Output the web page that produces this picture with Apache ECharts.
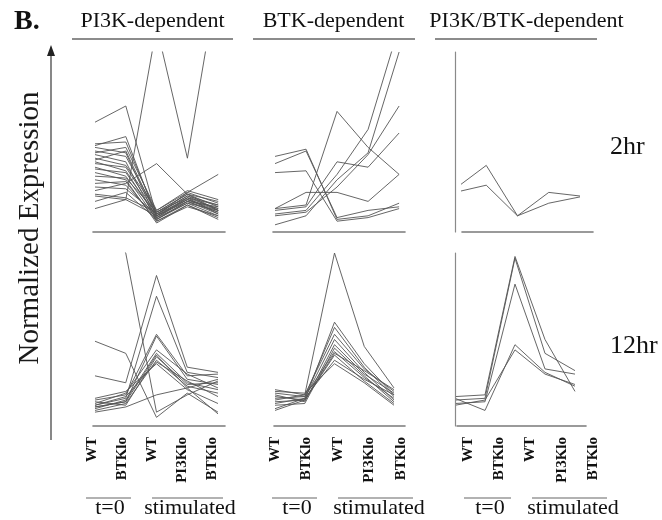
<!DOCTYPE html>
<html>
<head>
<meta charset="utf-8">
<script src="https://cdn.jsdelivr.net/npm/echarts@6/dist/echarts.min.js"></script>
<style>html,body{margin:0;padding:0;background:#fff}#c{width:662px;height:520px}</style>
</head>
<body>
<div id="c"></div>
<script>
// ---- text ----
const categories = ['WT', 'BTKlo', 'WT', 'PI3Klo', 'BTKlo'];
const groupLabels = ['t=0', 'stimulated'];
const columnTitles = ['PI3K-dependent', 'BTK-dependent', 'PI3K/BTK-dependent'];
const rowLabels = ['2hr', '12hr'];
const yTitle = 'Normalized Expression';
const panelTag = 'B.';

// ---- data: normalized expression, one row per gene, values for the 5 categories ----
const pi3k2hr = [
  [13, 18, 114, 41, 142],
  [61, 70, 9, 17, 11],
  [48, 53, 8, 19, 13],
  [49, 50, 10, 20, 15],
  [47, 44, 7, 16, 9],
  [45, 42, 11, 21, 14],
  [43, 39, 6, 15, 8],
  [41, 37, 12, 22, 16],
  [39, 34, 8, 18, 11],
  [38, 36, 10, 20, 12],
  [36, 31, 7, 17, 14],
  [35, 33, 9, 19, 10],
  [33, 29, 5, 15, 7],
  [31, 30, 11, 21, 17],
  [29, 26, 8, 16, 12],
  [27, 28, 6, 14, 9],
  [25, 24, 10, 18, 13],
  [23, 27, 38, 21, 12],
  [20, 18, 9, 22, 32],
  [17, 22, 7, 17, 10],
  [40, 45, 9, 18, 12],
  [44, 47, 12, 23, 18],
  [21, 19, 11, 19, 15]
];
const btk2hr = [
  [42, 46, 7, 9, 16],
  [38, 45, 8, 12, 14],
  [33, 34, 6, 8, 13],
  [13, 15, 67, 47, 32],
  [12, 14, 39, 36, 55],
  [10, 12, 32, 57, 114],
  [4, 9, 29, 44, 100],
  [9, 11, 25, 43, 70],
  [13, 22, 22, 17, 32]
];
const both2hr = [
  [24, 37, 9, 22, 20],
  [22, 26, 9, 16, 19.5]
];
const pi3k12hr = [
  [130, 100, 8, 18, 26],
  [49, 42, 5, 19, 8],
  [29, 25, 87, 34, 31],
  [12, 16, 75, 31, 28],
  [15, 18, 53, 29, 30],
  [11, 14, 52, 27, 24],
  [13, 19, 44, 30, 22],
  [10, 15, 42, 25, 21],
  [14, 12, 40, 24, 25],
  [9, 13, 38, 23, 19],
  [16, 20, 36, 21, 13],
  [12, 17, 37, 26, 17],
  [8, 11, 18, 22, 27],
  [11, 14, 41, 22, 7]
];
const btk12hr = [
  [21, 18, 100, 46, 22],
  [17, 15, 60, 36, 18],
  [19, 17, 57, 34, 17],
  [15, 18, 53, 33, 20],
  [13, 16, 50, 31, 15],
  [18, 14, 47, 30, 19],
  [12, 13, 45, 29, 14],
  [16, 17, 43, 28, 16],
  [14, 15, 41, 26, 13],
  [10, 16, 38, 27, 18],
  [20, 19, 36, 25, 12],
  [9, 15, 42, 32, 21]
];
const both12hr = [
  [17, 18, 98, 50, 20],
  [15, 16, 97, 42, 32],
  [13, 14, 82, 33, 30],
  [16, 9, 47, 31, 23],
  [12, 15, 44, 30, 24]
];

// ---- layout ----
const SERIF = 'Liberation Serif, Times New Roman, serif';
const LINE = '#555555';
const AXIS = '#7a7a7a';
const panels = [
  { data: pi3k2hr,  grid: {left: 93,  top: 52,  width: 132, height: 180}, min: -0.065, max: 4.22,  yLine: false, off: 0 },
  { data: btk2hr,   grid: {left: 273, top: 52,  width: 132, height: 180}, min: -0.065, max: 4.19,  yLine: false, off: 0 },
  { data: both2hr,  grid: {left: 462, top: 52,  width: 131, height: 180}, min: 0.224,  max: 4.416, yLine: true,  off: 7 },
  { data: pi3k12hr, grid: {left: 93,  top: 253, width: 132, height: 173}, min: -0.065, max: 4.228, yLine: false, off: 0 },
  { data: btk12hr,  grid: {left: 274, top: 253, width: 131, height: 173}, min: -0.034, max: 4.37,  yLine: false, off: 0 },
  { data: both12hr, grid: {left: 457, top: 253, width: 129, height: 173}, min: 0.067,  max: 4.367, yLine: true,  off: 2 }
];
const labelCols = [
  {left: 92,  width: 120},
  {left: 275, width: 126},
  {left: 468, width: 125}
];
const groupPos = [
  {t: [86, 131, 110],  s: [152, 223, 190]},
  {t: [272, 317, 297], s: [338, 413, 379]},
  {t: [464, 511, 490], s: [532, 607, 573]}
];
const titlePos = [
  {cx: 152.5, l: 72,  r: 233},
  {cx: 333.5, l: 253, r: 415},
  {cx: 526.5, l: 435, r: 597}
];

const grid = [], xAxis = [], yAxis = [], series = [];
panels.forEach((p, k) => {
  grid.push(p.grid);
  xAxis.push({
    type: 'value', gridIndex: k, min: p.min, max: p.max,
    axisLine: {show: true, onZero: false, lineStyle: {color: AXIS, width: 1.6}},
    axisTick: {show: false}, axisLabel: {show: false}, splitLine: {show: false}
  });
  yAxis.push({
    type: 'value', gridIndex: k, min: 0, max: 100, offset: p.off,
    axisLine: {show: p.yLine, onZero: false, lineStyle: {color: '#8a8a8a', width: 1.2}},
    axisTick: {show: false}, axisLabel: {show: false}, splitLine: {show: false}
  });
  p.data.forEach(row => {
    series.push({
      type: 'line', xAxisIndex: k, yAxisIndex: k,
      data: row.map((v, i) => [i, v]),
      symbol: 'none', silent: true, clip: !p.yLine,
      lineStyle: {color: LINE, width: 1, opacity: 0.9}
    });
  });
});
labelCols.forEach((c, j) => {
  const k = grid.length;
  grid.push({left: c.left, width: c.width, top: 425, height: 5});
  xAxis.push({
    type: 'category', gridIndex: k, data: categories, boundaryGap: false,
    axisLine: {show: false}, axisTick: {show: false}, splitLine: {show: false},
    axisLabel: {show: true, interval: 0, rotate: 90, margin: 7,
      fontFamily: SERIF, fontWeight: 'bold', fontSize: 15, color: '#111'}
  });
  yAxis.push({type: 'value', gridIndex: k, show: false, min: 0, max: 1});
  series.push({type: 'line', xAxisIndex: k, yAxisIndex: k, data: [], symbol: 'none'});
});

const graphic = [];
graphic.push({type: 'text', x: 14, y: 22, style: {text: panelTag, font: 'bold 28px ' + SERIF, fill: '#111', textAlign: 'left', textVerticalAlign: 'middle'}});
columnTitles.forEach((t, j) => {
  const tp = titlePos[j];
  graphic.push({type: 'text', x: tp.cx, y: 21, style: {text: t, font: '22px ' + SERIF, fill: '#111', textAlign: 'center', textVerticalAlign: 'middle'}});
  graphic.push({type: 'line', shape: {x1: tp.l, y1: 39, x2: tp.r, y2: 39}, style: {stroke: '#666', lineWidth: 1.5}});
  const gp = groupPos[j];
  [gp.t, gp.s].forEach((g, gi) => {
    graphic.push({type: 'line', shape: {x1: g[0], y1: 498, x2: g[1], y2: 498}, style: {stroke: '#666', lineWidth: 1.2}});
    graphic.push({type: 'text', x: g[2], y: 508, style: {text: groupLabels[gi], font: '22px ' + SERIF, fill: '#111', textAlign: 'center', textVerticalAlign: 'middle'}});
  });
});
graphic.push({type: 'text', x: 610, y: 147, style: {text: rowLabels[0], font: '26px ' + SERIF, fill: '#111', textAlign: 'left', textVerticalAlign: 'middle'}});
graphic.push({type: 'text', x: 610, y: 346, style: {text: rowLabels[1], font: '26px ' + SERIF, fill: '#111', textAlign: 'left', textVerticalAlign: 'middle'}});
graphic.push({type: 'text', x: 30, y: 228, rotation: Math.PI / 2, style: {text: yTitle, font: '29px ' + SERIF, fill: '#1a1a1a', textAlign: 'center', textVerticalAlign: 'middle'}});
graphic.push({type: 'line', shape: {x1: 51, y1: 440, x2: 51, y2: 54}, style: {stroke: '#555', lineWidth: 1.4}});
graphic.push({type: 'polygon', shape: {points: [[51, 45], [47, 56], [55, 56]]}, style: {fill: '#222'}});

const chart = echarts.init(document.getElementById('c'), null, {renderer: 'canvas'});
chart.setOption({
  animation: false,
  backgroundColor: '#fff',
  grid, xAxis, yAxis, series, graphic
});
</script>
</body>
</html>
